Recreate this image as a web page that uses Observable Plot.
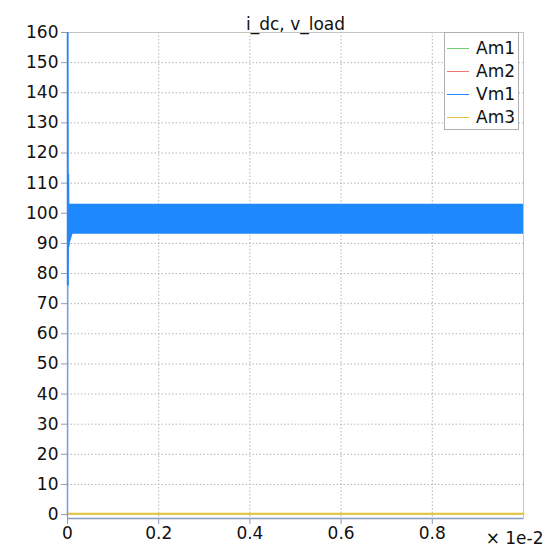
<!DOCTYPE html>
<html>
<head>
<meta charset="utf-8">
<script src="https://cdn.jsdelivr.net/npm/d3@7"></script>
<script src="https://cdn.jsdelivr.net/npm/@observablehq/plot@0.6"></script>
<style>
  body { margin: 0; background: white; }
  #wrap { position: relative; width: 554px; height: 548px; font-family: "DejaVu Sans", sans-serif; }
  #legend { position: absolute; left: 444px; top: 32px; width: 75px; height: 98px; border: 1px solid #b0b0b0; background: white; box-sizing: border-box; }
  .item { position: absolute; left: 0; height: 22px; font-size: 17px; color: #111; }
  .item .sw { position: absolute; left: 2px; width: 22px; height: 1px; top: 11px; }
  .item span { position: absolute; left: 31px; top: 0; line-height: 22px; white-space: nowrap; }
</style>
</head>
<body>
<div id="wrap"></div>
<script>
// Series names and colours
const seriesNames = ["Am1", "Am2", "Vm1", "Am3"];
const seriesColors = ["#6fcf6f", "#f07a7a", "#1e88ff", "#e3c43c"];

// Time in units of 1e-2 s
const xTicks = [0, 0.2, 0.4, 0.6, 0.8];
const yTicks = [0, 10, 20, 30, 40, 50, 60, 70, 80, 90, 100, 110, 120, 130, 140, 150, 160];

// Vm1 start-up transient
const vTransT = [0, 0.0008, 0.0016, 0.0024, 0.0032, 0.004];
const vTransV = [0, 160, 76, 113, 89, 103];

// Vm1 ripple envelope (fast oscillation fills a band)
const vBandT  = [0.004, 0.012, 0.5, 1.0];
const vBandLo = [89, 93, 93, 93];
const vBandHi = [103, 103, 103, 103];

// Currents: flat near zero
const iT   = [0, 1.0];
const am1V = [0.3, 0.3];
const am2V = [0.3, 0.3];
const am3V = [0.3, 0.3];

const trans = vTransT.map((t, i) => ({t, v: vTransV[i]}));
const band = vBandT.map((t, i) => ({t, lo: vBandLo[i], hi: vBandHi[i]}));
const mk = vals => iT.map((t, i) => ({t, v: vals[i]}));

const yMin = -1.3;
const axisCol = "#8a9bc0";

const chart = Plot.plot({
  width: 554,
  height: 548,
  marginLeft: 67,
  marginRight: 31,
  marginTop: 32,
  marginBottom: 30,
  x: {domain: [0, 1]},
  y: {domain: [yMin, 160]},
  style: {fontFamily: "DejaVu Sans", fontSize: "17px", color: "#111", background: "white"},
  marks: [
    Plot.gridY(yTicks.filter(d => d > 0 && d < 160), {stroke: "#b5b5b5", strokeOpacity: 1, strokeDasharray: "1.5,2"}),
    Plot.gridX(xTicks.filter(d => d > 0), {stroke: "#b5b5b5", strokeOpacity: 1, strokeDasharray: "1.5,2"}),
    Plot.frame({stroke: "#c4c4c4"}),
    Plot.areaY(band, {x: "t", y1: "lo", y2: "hi", fill: seriesColors[2], curve: "linear"}),
    Plot.line(trans, {x: "t", y: "v", stroke: seriesColors[2], strokeWidth: 1.2}),
    Plot.line(mk(am1V), {x: "t", y: "v", stroke: seriesColors[0], strokeWidth: 1.2}),
    Plot.line(mk(am2V), {x: "t", y: "v", stroke: seriesColors[1], strokeWidth: 1.2}),
    Plot.line(mk(am3V), {x: "t", y: "v", stroke: seriesColors[3], strokeWidth: 2}),
    Plot.ruleX([0], {stroke: axisCol, strokeWidth: 1.3}),
    Plot.ruleY([yMin], {stroke: axisCol, strokeWidth: 1.3}),
    Plot.ruleX([0], {y1: 76, y2: 160, stroke: seriesColors[2], strokeWidth: 1.3}),
    Plot.axisY(yTicks, {tickSize: 6, tickPadding: 3, stroke: axisCol, fill: "#111", label: null, fontSize: 17}),
    Plot.axisX(xTicks, {tickSize: 6, tickPadding: 2, stroke: axisCol, fill: "#111", label: null, fontSize: 17,
      tickFormat: d => d === 0 ? "0" : d.toFixed(1)}),
    Plot.text(["× 1e-2"], {frameAnchor: "bottom-right", dx: 20, dy: 25, textAnchor: "end", fill: "#111", fontSize: 17}),
    Plot.text(["i_dc, v_load"], {frameAnchor: "top", dy: -15, fill: "#111", fontSize: 17})
  ]
});

const wrap = document.getElementById("wrap");
wrap.appendChild(chart);

const legend = document.createElement("div");
legend.id = "legend";
seriesNames.forEach((name, i) => {
  const it = document.createElement("div");
  it.className = "item";
  it.style.top = (4 + i * 23) + "px";
  it.style.width = "74px";
  const sw = document.createElement("div");
  sw.className = "sw";
  sw.style.background = seriesColors[i];
  const sp = document.createElement("span");
  sp.textContent = name;
  it.appendChild(sw);
  it.appendChild(sp);
  legend.appendChild(it);
});
wrap.appendChild(legend);
</script>
</body>
</html>
